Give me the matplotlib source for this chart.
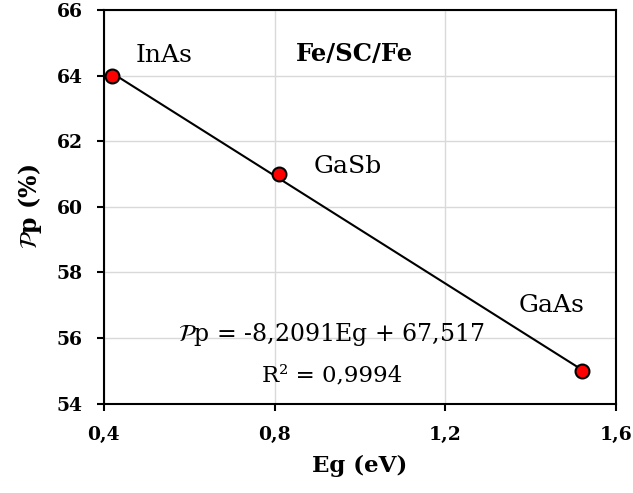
import numpy as np
import matplotlib.pyplot as plt

plt.rcParams['font.family'] = 'DejaVu Serif'
plt.rcParams['mathtext.fontset'] = 'stix'

# ---------------- dados ---------------- #
eg = [0.42, 0.81, 1.52]
pp = [64, 61, 55]
nomes = ['InAs', 'GaSb', 'GaAs']
nomes_x = [0.541, 0.972, 1.45]
nomes_y = [64.42, 61.04, 56.8]

slope = -8.2091
intercept = 67.517
r2 = '0,9994'

xticks = [0.4, 0.8, 1.2, 1.6]
xtick_labels = ['0,4', '0,8', '1,2', '1,6']
yticks = [54, 56, 58, 60, 62, 64, 66]

# ---------------- figura ---------------- #
fig = plt.figure(figsize=(6.33, 4.93), dpi=100)
ax = fig.add_axes([0.164, 0.181, 0.809, 0.799])

# reta de ajuste (tendência linear)
xl = np.array([min(eg), max(eg)])
ax.plot(xl, slope * xl + intercept, color='black', lw=1.5, zorder=2)
ax.plot(eg, pp, 'o', ms=10, mfc='#ff0000', mec='black', mew=1.5, zorder=3)

for n, x, y in zip(nomes, nomes_x, nomes_y):
    ax.text(x, y, n, ha='center', va='baseline', fontsize=18)

ax.text(0.987, 64.45, 'Fe/SC/Fe', ha='center', va='baseline', fontsize=17.5, fontweight='bold')
ax.text(0.932, 55.92, r'$\mathcal{P}$p = -8,2091Eg + 67,517', ha='center', va='baseline', fontsize=17)
ax.text(0.935, 54.67, 'R² = ' + r2, ha='center', va='baseline', fontsize=16.5)

ax.set_xlim(0.4, 1.6)
ax.set_ylim(54, 66)
ax.set_xticks(xticks)
ax.set_xticklabels(xtick_labels)
ax.set_yticks(yticks)
ax.grid(True, color='#d9d9d9', lw=1)
ax.set_axisbelow(True)

for s in ax.spines.values():
    s.set_linewidth(1.5)
ax.tick_params(direction='out', length=5, width=1.5, labelsize=13.5)
ax.tick_params(axis='x', pad=11)
ax.tick_params(axis='y', pad=10)
for lab in ax.get_xticklabels() + ax.get_yticklabels():
    lab.set_fontweight('bold')

ax.set_xlabel('Eg (eV)', fontsize=16.5, fontweight='bold', labelpad=8)
ax.set_ylabel(r'$\mathcal{P}$p (%)', fontsize=17, fontweight='bold', labelpad=9)

fig.savefig('out.png', dpi=100)
